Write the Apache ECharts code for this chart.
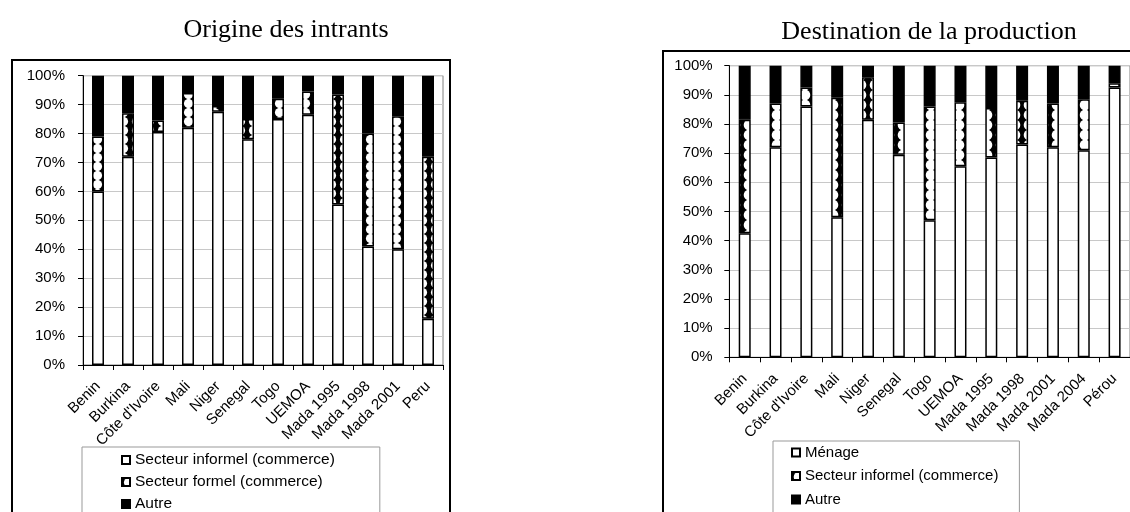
<!DOCTYPE html>
<html><head><meta charset="utf-8">
<script src="https://cdn.jsdelivr.net/npm/echarts@6/dist/echarts.min.js"></script>
<style>html,body{margin:0;padding:0;background:#fff}#c{width:1130px;height:512px}</style>
</head><body><div id="c"></div>
<script>
// ---- data ----
const titleLeft = 'Origine des intrants';
const titleRight = 'Destination de la production';
const catsLeft = ['Benin','Burkina',"Côte d'Ivoire",'Mali','Niger','Senegal','Togo','UEMOA','Mada 1995','Mada 1998','Mada 2001','Peru'];
const informelLeft = [60,72,80.5,82,87.5,78,85,86.5,55.5,41,40,16];
const formelLeft   = [19,15,4,12,2,7,7,8,38,39,46,56];
const autreLeft    = [21,13,15.5,6,10.5,15,8,5.5,6.5,20,14,28];
const catsRight = ['Benin','Burkina',"Côte d'Ivoire",'Mali','Niger','Senegal','Togo','UEMOA','Mada 1995','Mada 1998','Mada 2001','Mada 2004','Pérou'];
const menageRight   = [42.5,72,86,48,81.5,69.5,47,65.5,68.5,73,72,71,92.5];
const informelRight = [39,15,6.5,41,14.5,11,39,22,17,15,15,17.5,1.5];
const autreRight    = [18.5,13,7.5,11,4,19.5,14,12.5,14.5,12,13,11.5,6];
const legendLeft  = ['Secteur informel (commerce)','Secteur formel (commerce)','Autre'];
const legendRight = ['Ménage','Secteur informel (commerce)','Autre'];

// ---- patterns ----
function makePattern(w, h, r, cx, cy) {
  const c = document.createElement('canvas');
  c.width = w; c.height = h;
  const g = c.getContext('2d');
  g.fillStyle = '#000'; g.fillRect(0, 0, w, h);
  g.fillStyle = '#fff'; g.beginPath(); g.arc(cx, cy, r, 0, Math.PI * 2); g.fill();
  return c;
}
const patLeft = { image: makePattern(13, 9, 4.6, 6.5, 4.5), repeat: 'repeat' };
const patRight = { image: makePattern(14, 10, 5.3, 7, 5), repeat: 'repeat' };

const SANS = 'Liberation Sans, Arial, sans-serif';
const SERIF = 'Liberation Serif, Times New Roman, serif';
const names = {
  L1: legendLeft[0], L2: legendLeft[1], L3: legendLeft[2],
  R1: legendRight[0], R2: legendRight[1], R3: legendRight[2]
};

function yAxis(gi, margin) {
  return {
    type: 'value', gridIndex: gi, min: 0, max: 100, interval: 10,
    axisLine: { show: true, lineStyle: { color: '#000', width: 1 } },
    axisTick: { show: true, length: 5, lineStyle: { color: '#000' } },
    splitLine: { show: true, lineStyle: { color: '#c8c8c8', width: 1 } },
    axisLabel: { formatter: '{value}%', color: '#000', fontSize: 15, fontFamily: SANS, margin: margin }
  };
}
function xAxis(gi, cats) {
  return {
    type: 'category', gridIndex: gi, data: cats,
    axisLine: { show: true, lineStyle: { color: '#000', width: 1 } },
    axisTick: { show: true, length: 5, interval: 0, lineStyle: { color: '#000' } },
    axisLabel: { rotate: 45, interval: 0, color: '#000', fontSize: 15, fontFamily: SANS, margin: 19 }
  };
}
function bar(id, xi, stack, data, color) {
  return {
    type: 'bar', name: id, xAxisIndex: xi, yAxisIndex: xi, stack: stack, data: data,
    barWidth: 12, itemStyle: { color: color, borderColor: '#000', borderWidth: 1.5 },
    emphasis: { disabled: true }, animation: false
  };
}

const chart = echarts.init(document.getElementById('c'));
chart.setOption({
  backgroundColor: '#fff',
  animation: false,
  title: [
    { text: titleLeft, left: 286, top: 17, padding: 0, textAlign: 'center',
      textStyle: { fontFamily: SERIF, fontSize: 26, fontWeight: 'normal', color: '#000' } },
    { text: titleRight, left: 929, top: 19, padding: 0, textAlign: 'center',
      textStyle: { fontFamily: SERIF, fontSize: 26, fontWeight: 'normal', color: '#000' } }
  ],
  graphic: [
    { type: 'rect', shape: { x: 12, y: 60, width: 438, height: 480 }, style: { fill: 'none', stroke: '#000', lineWidth: 2 }, z: 100 },
    { type: 'rect', shape: { x: 663, y: 51, width: 500, height: 480 }, style: { fill: 'none', stroke: '#000', lineWidth: 2 }, z: 100 }
  ],
  grid: [
    { left: 83, top: 75.7, width: 360, height: 289.3, show: true, borderColor: '#808080', borderWidth: 1, backgroundColor: 'transparent' },
    { left: 729.3, top: 65.7, width: 407, height: 291.6, show: true, borderColor: '#808080', borderWidth: 1, backgroundColor: 'transparent' }
  ],
  xAxis: [xAxis(0, catsLeft), xAxis(1, catsRight)],
  yAxis: [yAxis(0, 18), yAxis(1, 16.6)],
  legend: [
    { orient: 'vertical', left: 82, top: 447, height: 200, padding: [5, 45, 20, 39], itemWidth: 8, itemHeight: 8, itemGap: 6,
      icon: 'rect', borderColor: '#999', borderWidth: 1, backgroundColor: '#fff', selectedMode: false,
      textStyle: { fontSize: 15.5, fontFamily: SANS, color: '#000' },
      data: ['L1', 'L2', 'L3'], formatter: n => names[n] },
    { orient: 'vertical', left: 773, top: 441, height: 200, padding: [4, 21, 20, 18], itemWidth: 8, itemHeight: 8, itemGap: 8.5,
      icon: 'rect', borderColor: '#999', borderWidth: 1, backgroundColor: '#fff', selectedMode: false,
      textStyle: { fontSize: 15, fontFamily: SANS, color: '#000' },
      data: ['R1', 'R2', 'R3'], formatter: n => names[n] }
  ],
  series: [
    bar('L1', 0, 'L', informelLeft, '#fff'),
    bar('L2', 0, 'L', formelLeft, patLeft),
    bar('L3', 0, 'L', autreLeft, '#000'),
    bar('R1', 1, 'R', menageRight, '#fff'),
    bar('R2', 1, 'R', informelRight, patRight),
    bar('R3', 1, 'R', autreRight, '#000')
  ]
});
</script></body></html>
